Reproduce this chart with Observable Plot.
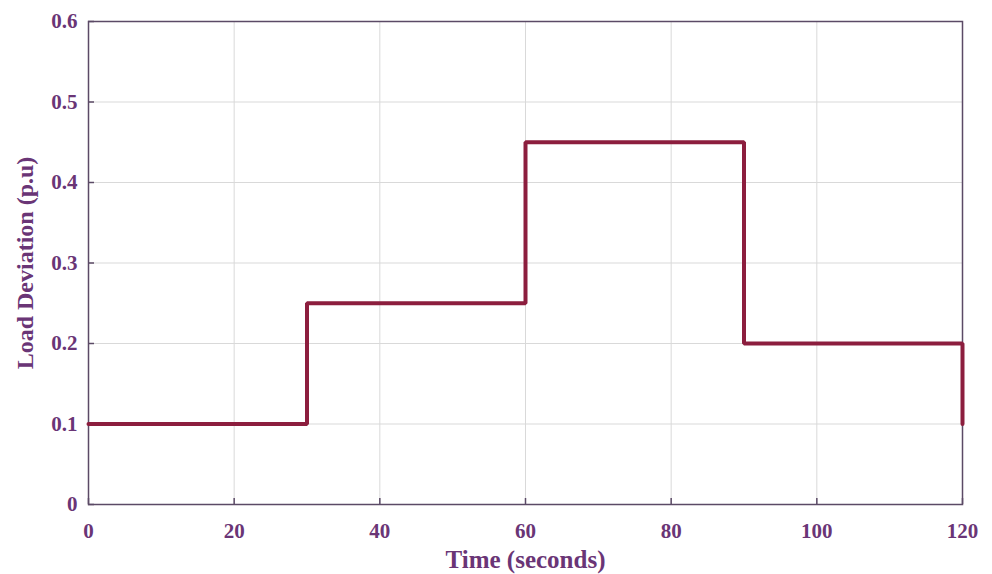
<!DOCTYPE html>
<html><head><meta charset="utf-8">
<script src="https://cdn.jsdelivr.net/npm/d3@7"></script>
<script src="https://cdn.jsdelivr.net/npm/@observablehq/plot@0.6"></script>
<style>body{margin:0;background:#fff;} svg{display:block;}</style>
</head><body><div id="chart"></div>
<script>
const times = [0, 30, 60, 90, 120, 120];
const loads = [0.1, 0.25, 0.45, 0.2, 0.2, 0.1];
const xTicks = [0, 20, 40, 60, 80, 100, 120];
const yTicks = [0, 0.1, 0.2, 0.3, 0.4, 0.5, 0.6];
const xLabel = "Time (seconds)";
const yLabel = "Load Deviation (p.u)";

const data = times.map((t, i) => ({t, v: loads[i]}));
const labelColor = "#6a3576";
const axisColor = "#5b4a66";

const chart = Plot.plot({
  width: 992, height: 574,
  marginLeft: 88, marginRight: 30, marginTop: 21, marginBottom: 70,
  style: {fontFamily: "'Liberation Serif', 'Times New Roman', serif", fontWeight: "bold", fontSize: "20px", background: "#fff"},
  x: {domain: [0, 120], ticks: xTicks, label: null},
  y: {domain: [0, 0.6], ticks: yTicks, label: null},
  marks: [
    Plot.gridX(xTicks, {stroke: "#d9d9d9", strokeOpacity: 1, strokeWidth: 1}),
    Plot.gridY(yTicks, {stroke: "#d9d9d9", strokeOpacity: 1, strokeWidth: 1}),
    Plot.axisX(xTicks, {tickSize: -6, tickFormat: () => "", label: null, stroke: axisColor, strokeWidth: 1.5}),
    Plot.axisY(yTicks, {tickSize: -6, tickFormat: () => "", label: null, stroke: axisColor, strokeWidth: 1.5}),
    Plot.axisX(xTicks, {tickSize: 0, tickPadding: 19, label: null, color: labelColor, fontSize: 21, fontWeight: "bold", tickFormat: d => String(d)}),
    Plot.axisY(yTicks, {tickSize: 0, tickPadding: 11, label: null, color: labelColor, fontSize: 21, fontWeight: "bold", tickFormat: d => String(d)}),
    Plot.frame({stroke: axisColor, strokeWidth: 1.5}),
    Plot.line(data, {x: "t", y: "v", curve: "step-after", stroke: "#8c1e3e", strokeWidth: 4, strokeLinejoin: "miter"}),
    Plot.text([xLabel], {frameAnchor: "bottom", dy: 63, fill: labelColor, fontSize: 25, fontWeight: "bold"}),
    Plot.text([yLabel], {frameAnchor: "left", dx: -63, rotate: -90, textAnchor: "middle", fill: labelColor, fontSize: 24, fontWeight: "bold"})
  ]
});
document.getElementById("chart").appendChild(chart);
</script></body></html>
